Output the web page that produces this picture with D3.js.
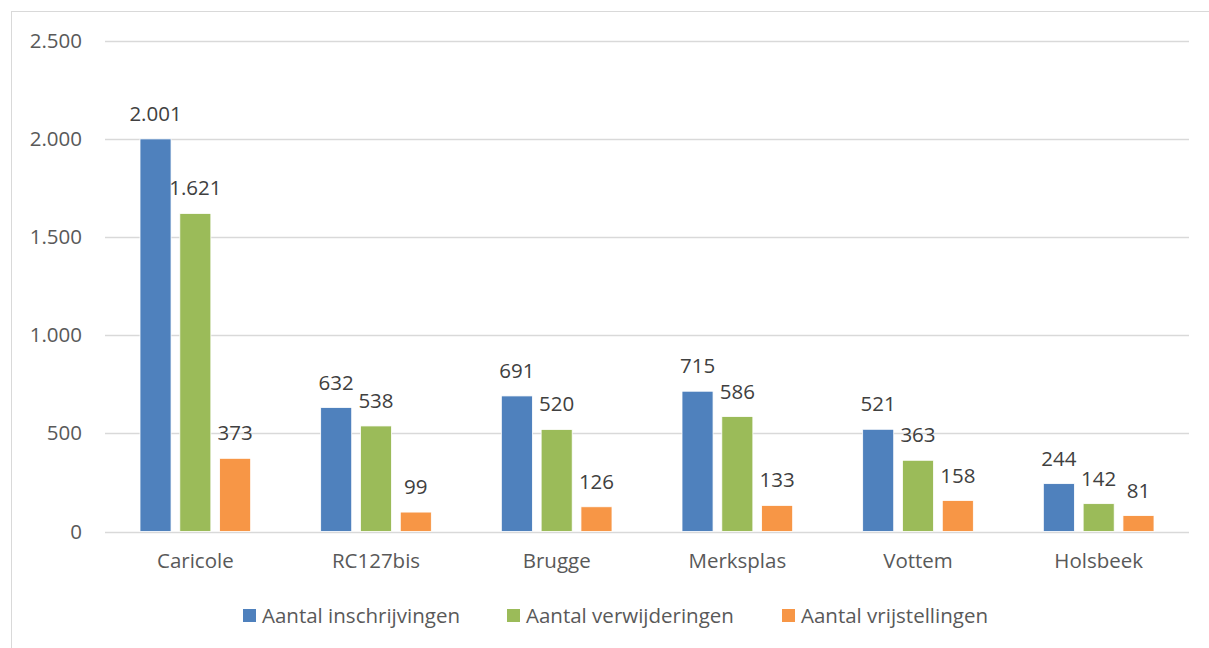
<!DOCTYPE html>
<html>
<head>
<meta charset="utf-8">
<script src="https://cdn.jsdelivr.net/npm/d3@7"></script>
<style>
  body { margin: 0; background: #fff; }
  text { font-family: "Open Sans", sans-serif; fill: #595959; }
</style>
</head>
<body>
<script>
// data
const categories = ["Caricole", "RC127bis", "Brugge", "Merksplas", "Vottem", "Holsbeek"];
const seriesNames = ["Aantal inschrijvingen", "Aantal verwijderingen", "Aantal vrijstellingen"];
const inschrijvingen = [2001, 632, 691, 715, 521, 244];
const verwijderingen = [1621, 538, 520, 586, 363, 142];
const vrijstellingen = [373, 99, 126, 133, 158, 81];
const yTicks = [0, 500, 1000, 1500, 2000, 2500];

const colors = ["#4f81bd", "#9bbb59", "#f79646"];
const width = 1209, height = 648;
const fontSize = "20.5px";
const fmt = d3.formatLocale({ decimal: ",", thousands: ".", grouping: [3] }).format(",d");

const series = [inschrijvingen, verwijderingen, vrijstellingen];
const rows = categories.map((c, i) => ({ cat: c, vals: series.map((s) => s[i]) }));

const svg = d3.select("body").append("svg")
  .attr("width", width)
  .attr("height", height);

// chart border
svg.append("rect")
  .attr("x", 11.5).attr("y", 11.5)
  .attr("width", 1220).attr("height", 660)
  .attr("fill", "none")
  .attr("stroke", "#d9d9d9");

const xScale = d3.scaleBand().domain(categories).range([105, 1189]).paddingInner(0).paddingOuter(0);
const yScale = d3.scaleLinear().domain([0, 2500]).range([531.5, 41]);
const inner = d3.scaleBand().domain(d3.range(3)).range([35, xScale.bandwidth() - 35]).paddingInner(0.22).paddingOuter(0);

// gridlines
svg.append("g")
  .selectAll("line")
  .data(yTicks)
  .join("line")
  .attr("x1", 105).attr("x2", 1189)
  .attr("y1", (d) => Math.round(yScale(d)) + 0.5)
  .attr("y2", (d) => Math.round(yScale(d)) + 0.5)
  .attr("stroke", "#d9d9d9")
  .attr("stroke-width", 1.5);

// y axis labels
const yAxis = d3.axisLeft(yScale).tickValues(yTicks).tickFormat(fmt).tickSize(0).tickPadding(0);
const yg = svg.append("g").attr("transform", "translate(82,0)").call(yAxis);
yg.select(".domain").remove();
yg.selectAll("text").style("font-size", fontSize).attr("font-family", null).attr("fill", "#595959");

// x axis labels
const xAxis = d3.axisBottom(xScale).tickSize(0).tickPadding(0);
const xg = svg.append("g").attr("transform", "translate(0,553)").call(xAxis);
xg.select(".domain").remove();
xg.selectAll("text").style("font-size", fontSize).attr("font-family", null).attr("fill", "#595959");

// bars
const groups = svg.append("g")
  .selectAll("g")
  .data(rows)
  .join("g")
  .attr("transform", (d) => `translate(${xScale(d.cat)},0)`);

groups.selectAll("rect")
  .data((d) => d.vals.map((v, k) => ({ v, k })))
  .join("rect")
  .attr("x", (d) => inner(d.k))
  .attr("y", (d) => yScale(d.v))
  .attr("width", inner.bandwidth())
  .attr("height", (d) => yScale(0) - yScale(d.v))
  .attr("fill", (d) => colors[d.k])
  .attr("stroke", "#fff")
  .attr("stroke-width", 0.8);

groups.selectAll("text.lbl")
  .data((d) => d.vals.map((v, k) => ({ v, k })))
  .join("text")
  .attr("class", "lbl")
  .attr("x", (d) => inner(d.k) + inner.bandwidth() / 2)
  .attr("y", (d) => yScale(d.v) - 18)
  .attr("text-anchor", "middle")
  .style("font-size", fontSize)
  .style("fill", "#404040")
  .text((d) => fmt(d.v));

// legend
const legendX = [243, 507, 782];
const legend = svg.append("g")
  .selectAll("g")
  .data(seriesNames)
  .join("g")
  .attr("transform", (d, i) => `translate(${legendX[i]},609)`);

legend.append("rect")
  .attr("width", 13).attr("height", 13)
  .attr("fill", (d, i) => colors[i]);

legend.append("text")
  .attr("x", 19).attr("y", 14)
  .style("font-size", fontSize)
  .text((d) => d);
</script>
</body>
</html>
